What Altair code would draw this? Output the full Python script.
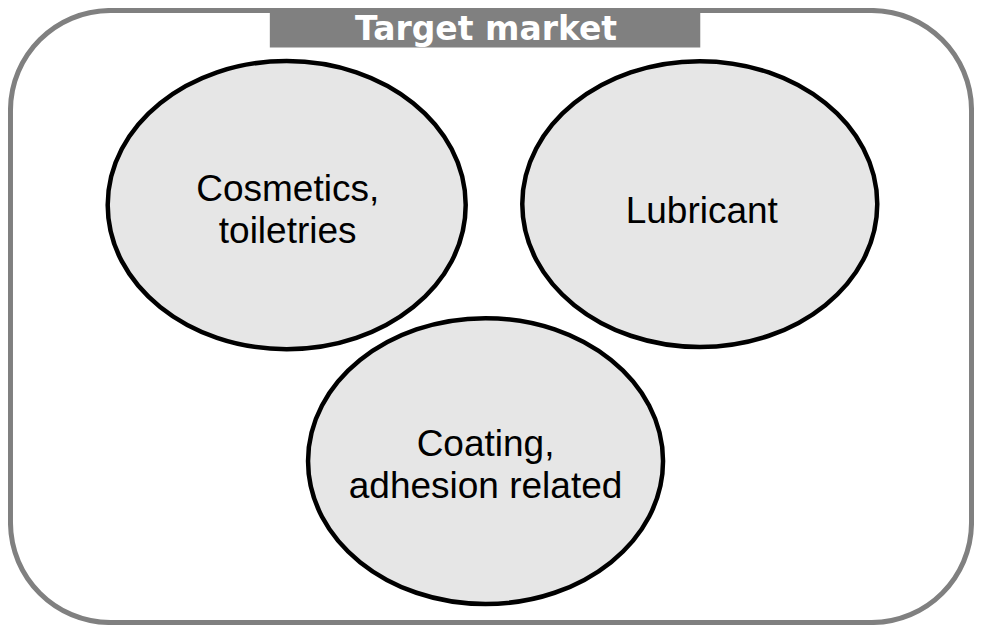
import altair as alt
import pandas as pd

# Ellipse "bubbles" (centre, outer width) and their labels
labels = ["Cosmetics,\ntoiletries", "Lubricant", "Coating,\nadhesion related"]
bubble_x = [289, 705.5, 489.5]
bubble_y = [209, 208, 467.5]
bubble_w = [358, 355, 355]
label_x = [290, 707.5, 489.5]
label_y = [205, 227, 462]

# Frame and title box
frame_x = [10.5]
frame_x2 = [979.5]
frame_y = [12.5]
frame_y2 = [630.5]
title_text = ["Target market"]
title_box_x = [272]
title_box_x2 = [706]
title_box_y = [0]
title_box_y2 = [50]
title_x = [490]
title_y = [42]

W, H = 966, 617
xs = alt.Scale(domain=[8, 982])
ys = alt.Scale(domain=[10, 633], reverse=True)

bubbles = pd.DataFrame({"x": bubble_x, "y": bubble_y,
                        "s": [w * w for w in bubble_w]})
texts = pd.DataFrame({"x": label_x, "y": label_y, "t": labels})
frame = pd.DataFrame({"x": frame_x, "x2": frame_x2, "y": frame_y, "y2": frame_y2})
tbox = pd.DataFrame({"x": title_box_x, "x2": title_box_x2,
                     "y": title_box_y, "y2": title_box_y2})
ttext = pd.DataFrame({"x": title_x, "y": title_y, "t": title_text})

ellipse_path = "M -1 0 A 1 0.805 0 1 1 1 0 A 1 0.805 0 1 1 -1 0 Z"

frame_layer = alt.Chart(frame).mark_rect(
    fill="white", stroke="#808080", strokeWidth=5, cornerRadius=100
).encode(
    x=alt.X("x:Q", scale=xs, axis=None), x2="x2:Q",
    y=alt.Y("y:Q", scale=ys, axis=None), y2="y2:Q",
)

tbox_layer = alt.Chart(tbox).mark_rect(fill="#808080", clip=True).encode(
    x=alt.X("x:Q", scale=xs, axis=None), x2="x2:Q",
    y=alt.Y("y:Q", scale=ys, axis=None), y2="y2:Q",
)

ttext_layer = alt.Chart(ttext).mark_text(
    font="DejaVu Sans", fontWeight="bold", fontSize=33, color="white",
    align="center", baseline="alphabetic"
).encode(
    x=alt.X("x:Q", scale=xs, axis=None),
    y=alt.Y("y:Q", scale=ys, axis=None),
    text="t:N",
)

bubble_layer = alt.Chart(bubbles).mark_point(
    shape=ellipse_path, filled=True, fill="#e6e6e6", stroke="black",
    strokeWidth=4.5, opacity=1, fillOpacity=1, strokeOpacity=1
).encode(
    x=alt.X("x:Q", scale=xs, axis=None),
    y=alt.Y("y:Q", scale=ys, axis=None),
    size=alt.Size("s:Q", scale=None, legend=None),
)

label_layer = alt.Chart(texts).mark_text(
    font="Liberation Sans", fontSize=37, color="black", align="center",
    baseline="alphabetic", lineBreak="\n", lineHeight=42
).encode(
    x=alt.X("x:Q", scale=xs, axis=None),
    y=alt.Y("y:Q", scale=ys, axis=None),
    text="t:N",
)

chart = alt.layer(
    frame_layer, tbox_layer, ttext_layer, bubble_layer, label_layer
).properties(
    width=W, height=H, padding=0, autosize=alt.AutoSizeParams(type="none")
).configure_view(stroke=None)

chart.save("out.html", embed_options={"renderer": "svg", "actions": False})
